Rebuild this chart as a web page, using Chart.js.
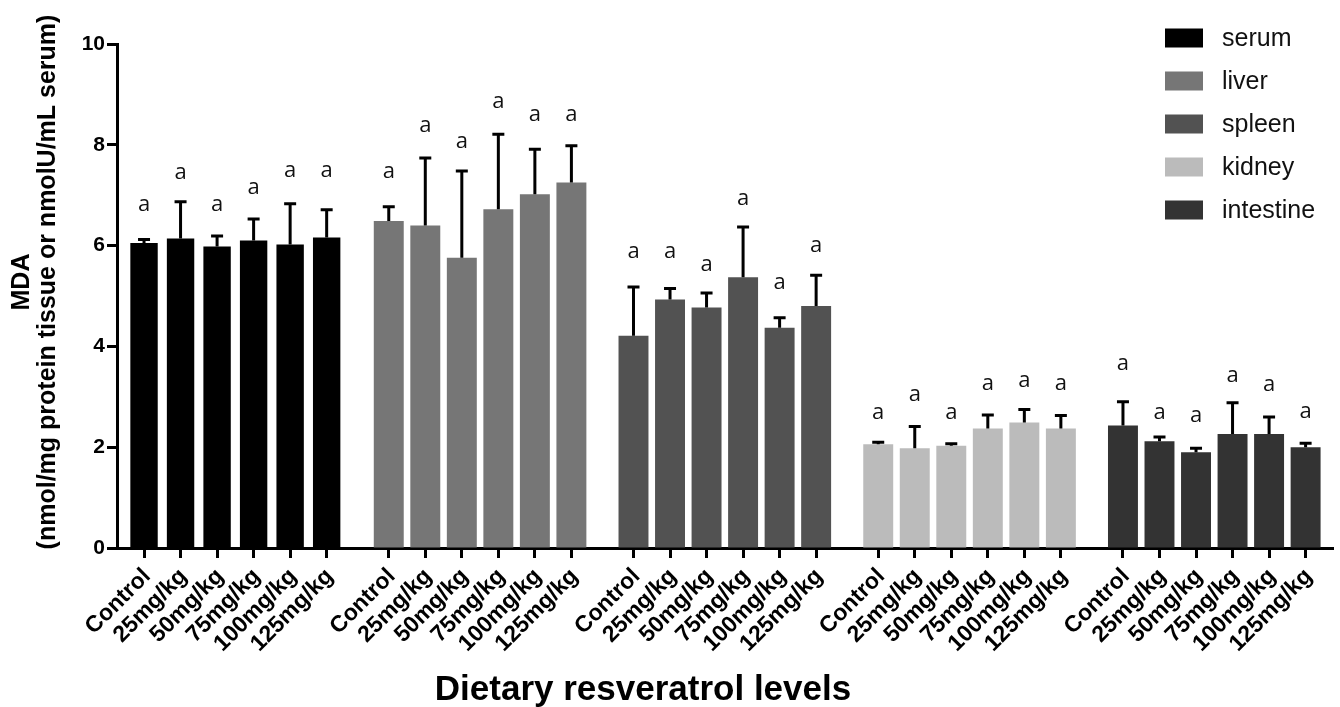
<!DOCTYPE html>
<html>
<head>
<meta charset="utf-8">
<script src="https://cdn.jsdelivr.net/npm/chart.js@4/dist/chart.umd.min.js"></script>
<style>
  html, body { margin: 0; padding: 0; background: #fff; }
  #wrap { width: 1340px; height: 707px; position: relative; }
</style>
</head>
<body>
<div id="wrap"><canvas id="c" width="1340" height="707"></canvas></div>
<script>
// ---- data ----
const doseLabels = ['Control', '25mg/kg', '50mg/kg', '75mg/kg', '100mg/kg', '125mg/kg'];
const tissues = ['serum', 'liver', 'spleen', 'kidney', 'intestine'];
const tissueColors = ['#000000', '#767676', '#525252', '#bbbbbb', '#333333'];

const serumMean     = [6.05, 6.14, 5.98, 6.10, 6.02, 6.16];
const serumSD       = [0.09, 0.75, 0.23, 0.45, 0.83, 0.57];
const liverMean     = [6.49, 6.40, 5.76, 6.72, 7.02, 7.25];
const liverSD       = [0.30, 1.36, 1.74, 1.51, 0.91, 0.75];
const spleenMean    = [4.21, 4.93, 4.77, 5.37, 4.37, 4.80];
const spleenSD      = [0.99, 0.24, 0.31, 1.02, 0.22, 0.63];
const kidneyMean    = [2.06, 1.98, 2.03, 2.37, 2.49, 2.37];
const kidneySD      = [0.06, 0.45, 0.06, 0.29, 0.28, 0.28];
const intestineMean = [2.43, 2.12, 1.90, 2.26, 2.26, 2.00];
const intestineSD   = [0.49, 0.10, 0.10, 0.64, 0.36, 0.10];

// significance letters and the level (in y units) at which each is written
const serumLetters     = ['a','a','a','a','a','a'];
const liverLetters     = ['a','a','a','a','a','a'];
const spleenLetters    = ['a','a','a','a','a','a'];
const kidneyLetters    = ['a','a','a','a','a','a'];
const intestineLetters = ['a','a','a','a','a','a'];
const serumLetterLevel     = [6.78, 7.40, 6.78, 7.10, 7.44, 7.44];
const liverLetterLevel     = [7.43, 8.33, 8.03, 8.81, 8.55, 8.55];
const spleenLetterLevel    = [5.83, 5.83, 5.58, 6.90, 5.22, 5.96];
const kidneyLetterLevel    = [2.65, 3.00, 2.65, 3.21, 3.27, 3.21];
const intestineLetterLevel = [3.61, 2.65, 2.59, 3.37, 3.19, 2.67];

const yTicks = [0, 2, 4, 6, 8, 10];
const yTitleLines = ['MDA', '(nmol/mg protein tissue or nmolU/mL serum)'];
const xTitle = 'Dietary resveratrol levels';

// ---- layout constants ----
const GROUP_GAP = 0.7;                 // extra space between tissue groups (in bar slots)
const GROUP_STRIDE = doseLabels.length + GROUP_GAP;
const FONT = '"Liberation Sans", Arial, Helvetica, sans-serif';

const means = [serumMean, liverMean, spleenMean, kidneyMean, intestineMean];
const sds = [serumSD, liverSD, spleenSD, kidneySD, intestineSD];
const letters = [serumLetters, liverLetters, spleenLetters, kidneyLetters, intestineLetters];
const letterLevels = [serumLetterLevel, liverLetterLevel, spleenLetterLevel, kidneyLetterLevel, intestineLetterLevel];

const slotPos = (g, i) => g * GROUP_STRIDE + i;
const allPositions = [];
tissues.forEach((t, g) => doseLabels.forEach((d, i) => allPositions.push(slotPos(g, i))));

const datasets = tissues.map((t, g) => ({
  label: t,
  data: means[g].map((v, i) => ({ x: slotPos(g, i), y: v })),
  backgroundColor: tissueColors[g],
  borderWidth: 0,
  barPercentage: g === 0 ? 0.75 : 0.82,
  categoryPercentage: 1.0,
  sds: sds[g],
  letters: letters[g],
  letterLevels: letterLevels[g]
}));

const overlayPlugin = {
  id: 'overlay',
  afterDatasetsDraw(chart) {
    const ctx = chart.ctx;
    const y = chart.scales.y;
    ctx.save();
    chart.data.datasets.forEach((ds, di) => {
      const meta = chart.getDatasetMeta(di);
      meta.data.forEach((el, i) => {
        const top = y.getPixelForValue(ds.data[i].y + ds.sds[i]);
        ctx.strokeStyle = '#000';
        ctx.lineWidth = 3;
        ctx.lineCap = 'butt';
        ctx.beginPath();
        ctx.moveTo(el.x, el.y);
        ctx.lineTo(el.x, top);
        ctx.moveTo(el.x - 6, top + 1);
        ctx.lineTo(el.x + 6, top + 1);
        ctx.stroke();
        ctx.fillStyle = '#111';
        ctx.font = '22px "Open Sans", ' + FONT;
        ctx.textAlign = 'center';
        ctx.textBaseline = 'middle';
        ctx.fillText(ds.letters[i], el.x, y.getPixelForValue(ds.letterLevels[i]) - 2);
      });
    });
    ctx.restore();
  },
  afterDraw(chart) {
    const ctx = chart.ctx;
    ctx.save();
    // y axis title (two lines, rotated)
    ctx.fillStyle = '#000';
    ctx.font = 'bold 25px ' + FONT;
    ctx.textAlign = 'center';
    ctx.textBaseline = 'middle';
    const cy = 282;
    [22, 48].forEach((x, k) => {
      ctx.save();
      ctx.translate(x, cy);
      ctx.rotate(-Math.PI / 2);
      ctx.fillText(yTitleLines[k], 0, 0);
      ctx.restore();
    });
    // x axis title
    ctx.font = 'bold 35px ' + FONT;
    ctx.textBaseline = 'alphabetic';
    ctx.fillText(xTitle, 643, 700);
    // legend
    ctx.textAlign = 'left';
    ctx.textBaseline = 'middle';
    ctx.font = '25px ' + FONT;
    chart.data.datasets.forEach((ds, k) => {
      const ry = 38 + k * 43;
      ctx.fillStyle = ds.backgroundColor;
      ctx.fillRect(1165, ry - 9.5, 38, 19);
      ctx.fillStyle = '#111';
      ctx.fillText(ds.label, 1222, ry + 1);
    });
    ctx.restore();
  }
};

new Chart(document.getElementById('c'), {
  type: 'bar',
  data: { datasets },
  options: {
    responsive: false,
    animation: false,
    grouped: false,
    layout: { padding: { top: 44, right: 7, left: 0, bottom: 0 } },
    plugins: { legend: { display: false }, tooltip: { enabled: false } },
    scales: {
      x: {
        type: 'linear',
        offset: false,
        min: -0.74,
        max: allPositions[allPositions.length - 1] + 0.75,
        afterBuildTicks: (scale) => { scale.ticks = allPositions.map(v => ({ value: v })); },
        afterFit: (scale) => { scale.height = 159; },
        ticks: {
          autoSkip: false,
          minRotation: 45,
          maxRotation: 45,
          padding: 5,
          labelOffset: 3,
          color: '#000',
          font: { family: FONT, size: 23, weight: 'bold' },
          callback: (v, idx) => doseLabels[idx % doseLabels.length]
        },
        grid: { offset: false, drawOnChartArea: false, drawTicks: true, tickLength: 10, tickWidth: 3, tickColor: '#000' },
        border: { display: true, width: 3, color: '#000' }
      },
      y: {
        min: 0,
        max: 10,
        afterBuildTicks: (scale) => { scale.ticks = yTicks.map(v => ({ value: v })); },
        afterFit: (scale) => { scale.width = 117; },
        ticks: {
          padding: 2,
          color: '#000',
          font: { family: FONT, size: 21, weight: 'bold' }
        },
        grid: { drawOnChartArea: false, drawTicks: true, tickLength: 10, tickWidth: 3, tickColor: '#000' },
        border: { display: true, width: 3, color: '#000' }
      }
    }
  },
  plugins: [overlayPlugin]
});
</script>
</body>
</html>
